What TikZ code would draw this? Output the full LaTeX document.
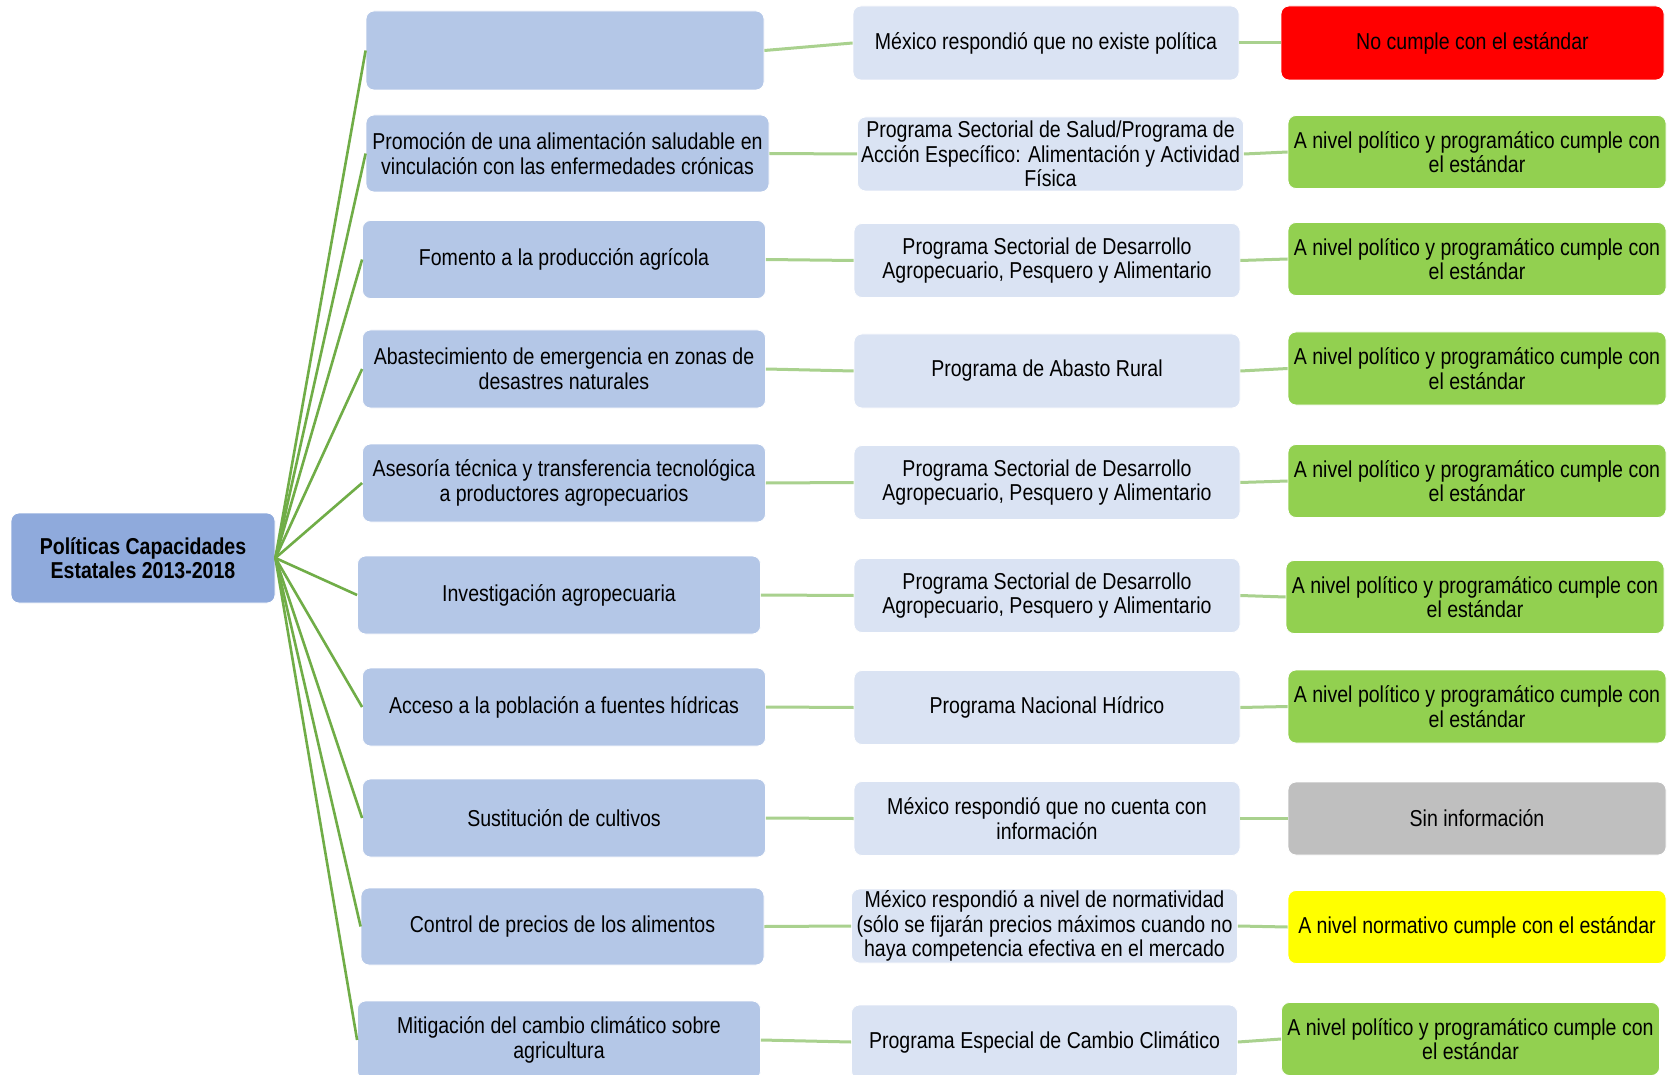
\documentclass[tikz,border=0pt]{standalone}
\usepackage{fontspec}
\setmainfont{Liberation Sans}[FakeStretch=0.85]
\definecolor{rootc}{HTML}{8FAADC}
\definecolor{lonec}{HTML}{B4C7E7}
\definecolor{ltwoc}{HTML}{DAE3F3}
\definecolor{grn}{HTML}{92D050}
\definecolor{redc}{HTML}{FF0000}
\definecolor{yel}{HTML}{FFFF00}
\definecolor{gry}{HTML}{BFBFBF}
\definecolor{darkline}{HTML}{70AD47}
\definecolor{lightline}{HTML}{A9D18E}
\tikzset{
  basebox/.style={rounded corners=8pt, draw=white, line width=0.8pt, align=center, inner sep=0pt,
    font=\fontsize{23pt}{24.5pt}\selectfont},
  rootbox/.style={basebox, fill=rootc, minimum width=264pt, minimum height=90pt, font=\fontsize{23pt}{24.5pt}\selectfont\bfseries},
  lone/.style={basebox, fill=lonec, minimum width=403pt, minimum height=78pt},
  ltwo/.style={basebox, fill=ltwoc, minimum width=386pt, minimum height=74pt},
  lthree/.style={basebox, minimum width=378pt, minimum height=73pt},
  rootlink/.style={darkline, line width=2.6pt},
  sublink/.style={lightline, line width=3pt},
}
\begin{document}
\begin{tikzpicture}[x=1pt,y=-1pt]
\clip (0,0) rectangle (1671,1075);
\fill[white] (0,0) rectangle (1671,1075);

\node[rootbox] (root) at (143,558) {Políticas Capacidades\\Estatales 2013-2018};

\node[lone, minimum width=398pt, minimum height=79pt] (a1) at (565,50.5) {};
\node[lone, minimum height=77pt] (a2) at (567.5,153.5) {Promoción de una alimentación saludable en\\vinculación con las enfermedades crónicas};
\node[lone] (a3) at (564,259.5) {Fomento a la producción agrícola};
\node[lone] (a4) at (564,369) {Abastecimiento de emergencia en zonas de\\desastres naturales};
\node[lone] (a5) at (564,483) {Asesoría técnica y transferencia tecnológica\\a productores agropecuarios};
\node[lone] (a6) at (559,595) {Investigación agropecuaria};
\node[lone] (a7) at (564,707) {Acceso a la población a fuentes hídricas};
\node[lone] (a8) at (564,818) {Sustitución de cultivos};
\node[lone, minimum height=77pt] (a9) at (562.5,926.5) {Control de precios de los alimentos};
\node[lone] (a10) at (559,1040) {Mitigación del cambio climático sobre\\agricultura};

\node[ltwo] (b1) at (1046,43) {México respondió que no existe política};
\node[ltwo] (b2) at (1050.5,154) {Programa Sectorial de Salud/Programa de\\Acción Específico: Alimentación y Actividad\\Física};
\node[ltwo] (b3) at (1047,260.5) {Programa Sectorial de Desarrollo\\Agropecuario, Pesquero y Alimentario};
\node[ltwo] (b4) at (1047,371) {Programa de Abasto Rural};
\node[ltwo] (b5) at (1047,482.5) {Programa Sectorial de Desarrollo\\Agropecuario, Pesquero y Alimentario};
\node[ltwo] (b6) at (1047,595.5) {Programa Sectorial de Desarrollo\\Agropecuario, Pesquero y Alimentario};
\node[ltwo] (b7) at (1047,707.5) {Programa Nacional Hídrico};
\node[ltwo] (b8) at (1047,818.5) {México respondió que no cuenta con\\información};
\node[ltwo] (b9) at (1044.5,926) {México respondió a nivel de normatividad\\(sólo se fijarán precios máximos cuando no\\haya competencia efectiva en el mercado};
\node[ltwo] (b10) at (1044.5,1042) {Programa Especial de Cambio Climático};

\node[lthree, fill=redc, minimum width=383pt, minimum height=74pt] (c1) at (1472.5,43) {No cumple con el estándar};
\node[lthree, fill=grn] (c2) at (1477,152) {A nivel político y programático cumple con\\el estándar};
\node[lthree, fill=grn] (c3) at (1477,259) {A nivel político y programático cumple con\\el estándar};
\node[lthree, fill=grn] (c4) at (1477,368.5) {A nivel político y programático cumple con\\el estándar};
\node[lthree, fill=grn] (c5) at (1477,481) {A nivel político y programático cumple con\\el estándar};
\node[lthree, fill=grn] (c6) at (1475,597) {A nivel político y programático cumple con\\el estándar};
\node[lthree, fill=grn] (c7) at (1477,706.5) {A nivel político y programático cumple con\\el estándar};
\node[lthree, fill=gry] (c8) at (1477,818.5) {Sin información};
\node[lthree, fill=yel] (c9) at (1477,927) {A nivel normativo cumple con el estándar};
\node[lthree, fill=grn] (c10) at (1470.5,1039) {A nivel político y programático cumple con\\el estándar};

\foreach \i in {1,...,10} {
  \draw[rootlink] (root.east) -- (a\i.west);
  \draw[sublink] (a\i.east) -- (b\i.west);
  \draw[sublink] (b\i.east) -- (c\i.west);
}
\end{tikzpicture}
\end{document}
